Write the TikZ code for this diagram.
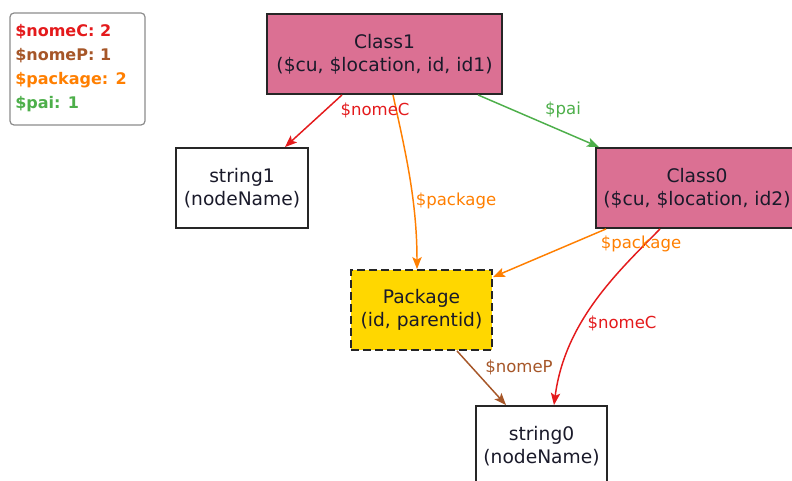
\documentclass[tikz,border=0pt]{standalone}
\usepackage{fontspec}
\setmainfont{DejaVu Sans}
\usetikzlibrary{arrows.meta,calc}
\definecolor{cred}{HTML}{E41A1C}
\definecolor{cbrown}{HTML}{A65628}
\definecolor{corange}{HTML}{FF7F00}
\definecolor{cgreen}{HTML}{4DAF4A}
\definecolor{cpink}{HTML}{DB7093}
\definecolor{cgold}{HTML}{FFD700}
\definecolor{ctext}{HTML}{1A1A2A}
\begin{document}
\begin{tikzpicture}[x=0.75pt,y=-0.75pt,
  box/.style={draw=black!85, line width=1.4pt, minimum height=60pt, align=center,
    font=\fontsize{14}{17}\selectfont, text=ctext, inner sep=0pt},
  classbox/.style={box, fill=cpink},
  plainbox/.style={box, fill=white},
  pkgbox/.style={box, fill=cgold, dashed, dash pattern=on 6pt off 3pt},
  edge/.style={line width=1.1pt, -{Stealth[length=9pt,width=7pt,inset=2pt]}},
  elabel/.style={font=\fontsize{12.4}{14}\selectfont, inner sep=0pt},
  legtext/.style={font=\bfseries\fontsize{12}{14}\selectfont, anchor=west, inner sep=0pt}
]
\useasboundingbox (0,0) rectangle (792,481);
\clip (0,0) rectangle (792,481);
\fill[white] (0,0) rectangle (792,481);

% legend
\node[draw=gray!90, line width=0.9pt, rounded corners=3pt, minimum width=101.25pt, minimum height=84pt, inner sep=0pt] (legend) at (77.5,69) {};
\node[legtext, text=cred] (l1) at (15,32) {\$nomeC: 2};
\node[legtext, text=cbrown] (l2) at (15,56) {\$nomeP: 1};
\node[legtext, text=corange] (l3) at (15,80) {\$package: 2};
\node[legtext, text=cgreen] (l4) at (15,104) {\$pai: 1};

% nodes
\node[classbox, minimum width=176.25pt] (c1) at (384.5,54) {Class1\\(\$cu, \$location, id, id1)};
\node[plainbox, minimum width=99pt] (s1) at (242,188) {string1\\(nodeName)};
\node[classbox, minimum width=151.5pt] (c0) at (697,188) {Class0\\(\$cu, \$location, id2)};
\node[pkgbox, minimum width=105.75pt] (pkg) at (421.5,310) {Package\\(id, parentid)};
\node[plainbox, minimum width=98.25pt] (s0) at (541.5,446) {string0\\(nodeName)};

% edges
\draw[edge, cred] ($(c1.south)+(-42.5,0)$) -- ($(s1.north)+(43,0)$);
\draw[edge, corange] ($(c1.south)+(8.5,0)$) .. controls (405,150) and (417,200) .. ($(pkg.north)+(-4.5,0)$);
\draw[edge, cgreen] ($(c1.south)+(93.5,0)$) -- ($(c0.north west)+(4,0)$);
\draw[edge, corange] ($(c0.south west)+(11,0)$) -- ($(pkg.north east)+(0,8)$);
\draw[edge, cred] ($(c0.south)+(-37,0)$) .. controls (620,270) and (565,320) .. ($(s0.north)+(12.5,0)$);
\draw[edge, cbrown] ($(pkg.south)+(35.5,0)$) -- ($(s0.north)+(-35.5,0)$);

% edge labels
\node[elabel, text=cred] (e1) at (375,110) {\$nomeC};
\node[elabel, text=corange] (e2) at (456,201) {\$package};
\node[elabel, text=cgreen] (e3) at (563,110) {\$pai};
\node[elabel, text=corange] (e4) at (641,244) {\$package};
\node[elabel, text=cred] (e5) at (622,323) {\$nomeC};
\node[elabel, text=cbrown] (e6) at (519,367) {\$nomeP};
\end{tikzpicture}
\end{document}
